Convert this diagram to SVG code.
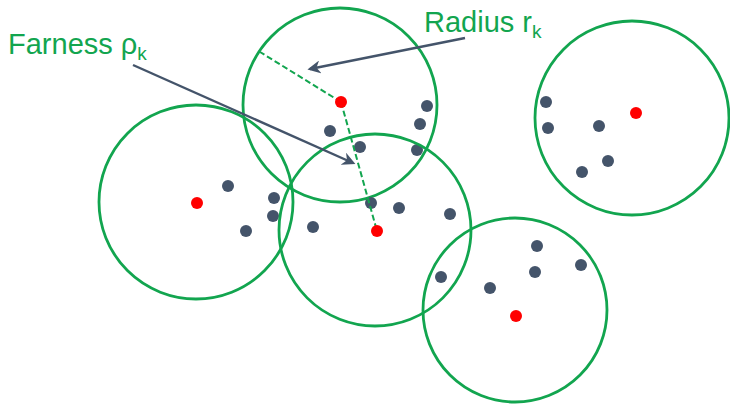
<svg xmlns="http://www.w3.org/2000/svg" width="730" height="405" viewBox="0 0 730 405">
<style>
.c{fill:none;stroke:#12A54F;stroke-width:2.8}
.p{fill:#44546A}
.ctr{fill:#FF0000}
.d{stroke:#12A54F;stroke-width:2;stroke-dasharray:6,3;fill:none}
.a{stroke:#44546A;stroke-width:2.4;fill:none}
.t{font-family:"Liberation Sans",Arial,sans-serif;fill:#12A54F}
</style>
<defs>
<marker id="ah" viewBox="0 0 10 10" refX="8" refY="5" markerWidth="5.5" markerHeight="5.5" orient="auto" markerUnits="strokeWidth">
<path d="M0,0 L10,5 L0,10 L3,5 Z" fill="#44546A"/>
</marker>
</defs>
<rect width="730" height="405" fill="#fff"/>
<g id="cluster1">
<circle class="c" cx="340" cy="105" r="97"/>
<circle class="p" cx="427" cy="106" r="6"/>
<circle class="p" cx="420" cy="124" r="6"/>
<circle class="p" cx="417" cy="150" r="6"/>
<circle class="p" cx="330" cy="131" r="6"/>
<circle class="p" cx="360" cy="147" r="6"/>
</g>
<g id="cluster2">
<circle class="c" cx="196" cy="202" r="97"/>
<circle class="p" cx="228" cy="186" r="6"/>
<circle class="p" cx="274" cy="198" r="6"/>
<circle class="p" cx="273" cy="216" r="6"/>
<circle class="p" cx="246" cy="231" r="6"/>
<circle class="ctr" cx="197" cy="203" r="6"/>
</g>
<g id="cluster3">
<circle class="c" cx="375" cy="230" r="96"/>
<circle class="p" cx="371" cy="203" r="6"/>
<circle class="p" cx="399" cy="208" r="6"/>
<circle class="p" cx="450" cy="214" r="6"/>
<circle class="p" cx="313" cy="227" r="6"/>
</g>
<g id="cluster4">
<circle class="c" cx="632" cy="118" r="97"/>
<circle class="p" cx="546" cy="102" r="6"/>
<circle class="p" cx="548" cy="128" r="6"/>
<circle class="p" cx="599" cy="126" r="6"/>
<circle class="p" cx="608" cy="161" r="6"/>
<circle class="p" cx="582" cy="172" r="6"/>
<circle class="ctr" cx="636" cy="113" r="6"/>
</g>
<g id="cluster5">
<circle class="c" cx="515" cy="310" r="92"/>
<circle class="p" cx="441" cy="277" r="6"/>
<circle class="p" cx="490" cy="288" r="6"/>
<circle class="p" cx="537" cy="246" r="6"/>
<circle class="p" cx="535" cy="272" r="6"/>
<circle class="p" cx="581" cy="265" r="6"/>
<circle class="ctr" cx="516" cy="316" r="6"/>
</g>
<g id="connectors">
<line class="d" x1="341" y1="102" x2="260" y2="52"/>
<line class="d" x1="341" y1="102" x2="377" y2="231"/>
<line class="a" x1="465" y1="38" x2="310" y2="69" marker-end="url(#ah)"/>
<line class="a" x1="133" y1="65" x2="353" y2="163" marker-end="url(#ah)"/>
</g>
<g id="centers">
<circle class="ctr" cx="341" cy="102" r="6"/>
<circle class="ctr" cx="377" cy="231" r="6"/>
</g>
<g id="labels">
<text class="t" x="8" y="54" font-size="29">Farness ρ<tspan font-size="19" dy="6">k</tspan></text>
<text class="t" x="424" y="32" font-size="29">Radius r<tspan font-size="19" dy="6">k</tspan></text>
</g>
</svg>
